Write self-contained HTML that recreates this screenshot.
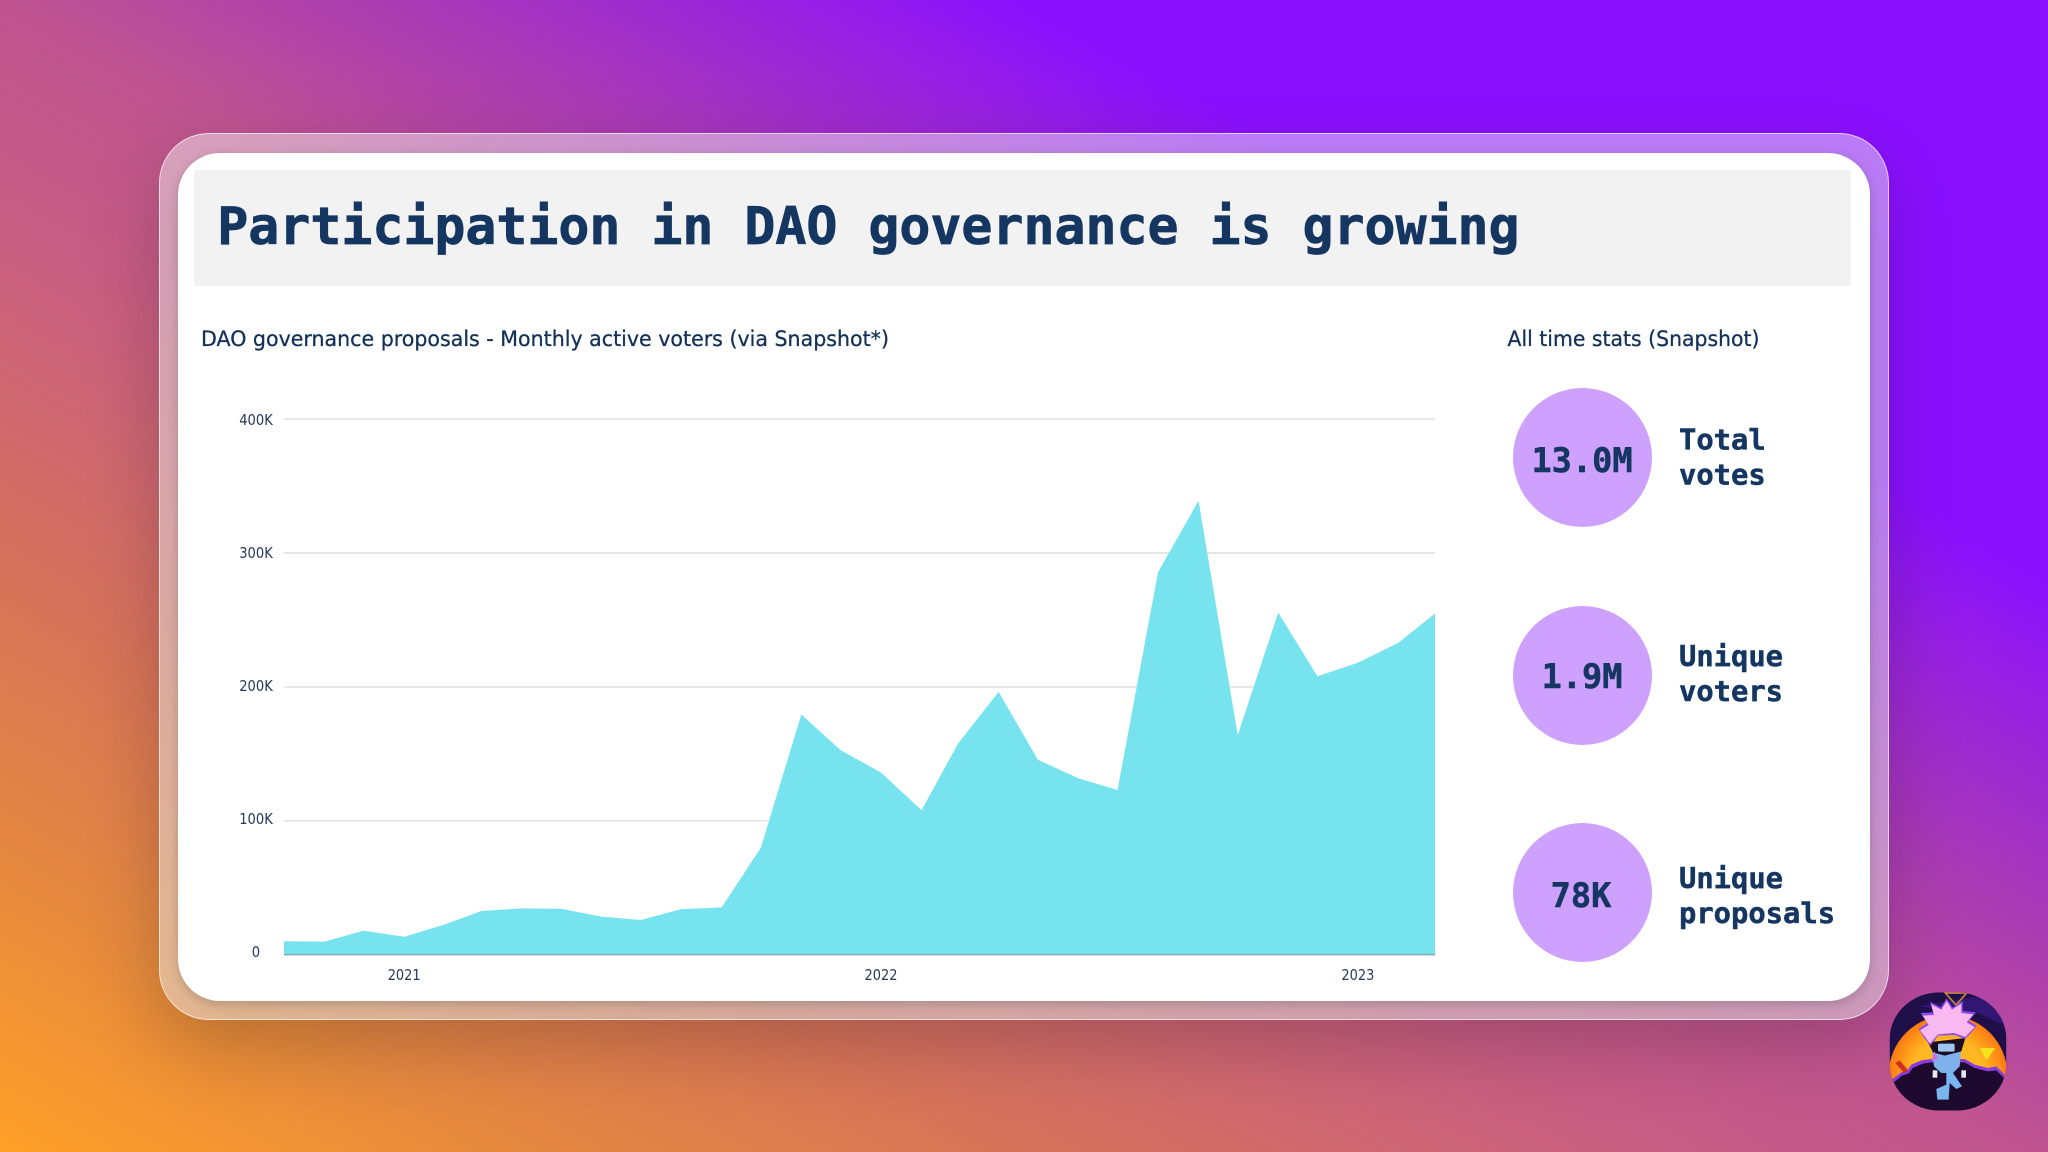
<!DOCTYPE html>
<html lang="en">
<head>
<meta charset="utf-8">
<title>Participation in DAO governance is growing</title>
<style>
  html, body { margin: 0; padding: 0; width: 2048px; height: 1152px; overflow: hidden; }
  #bg {
    position: absolute; left: 0; top: 0; width: 2048px; height: 1152px;
    background: linear-gradient(to top right,
      #ffa028 0%, #e68a3e 12%, #d6735a 25%, #c95f80 39%, #bf5490 50%,
      #a93ab5 60%, #8a10ff 75%, #8a10ff 100%);
    overflow: hidden;
  }
  #frame-shadow {
    position: absolute; left: 159px; top: 157px; width: 1730px; height: 887px;
    border-radius: 50px; background: rgba(0,0,0,.2); filter: blur(35px);
  }
  #glass {
    position: absolute; left: 159px; top: 133px; width: 1728px; height: 885px;
    border: 1px solid rgba(255,255,255,.62); border-radius: 50px;
    background: rgba(255,255,255,.45);
  }
  #card {
    position: absolute; left: 178px; top: 153px; width: 1692px; height: 848px;
    background: #fff; border-radius: 42px;
    box-shadow: 0 3px 10px rgba(0,0,0,.16);
  }
  #title-bar { position: absolute; left: 194px; top: 170px; width: 1657px; height: 116px; background: #f2f2f2; }
  svg { position: absolute; left: 0; top: 0; }
  .mono { font-family: "DejaVu Sans Mono", "Liberation Mono", monospace; font-weight: 700; fill: #143661; stroke: #143661; stroke-width: .5px; }
  .sans { font-family: "DejaVu Sans", "Liberation Sans", sans-serif; fill: #143257; stroke: #143257; stroke-width: .3px; }
  .tick { font-family: "DejaVu Sans", "Liberation Sans", sans-serif; fill: #27395a; font-size: 15px; }
</style>
</head>
<body>
<div id="bg">
  <div id="frame-shadow"></div>
</div>
<div id="glass"></div>
<div id="card"></div>
<div id="title-bar"></div>

<svg id="main" width="2048" height="1152" viewBox="0 0 2048 1152" xmlns="http://www.w3.org/2000/svg">
  <text class="mono" x="217.3" y="244" font-size="51.5" style="stroke-width:.8px">Participation in DAO governance is growing</text>

  <text class="sans" x="201" y="346" font-size="21" textLength="688" lengthAdjust="spacingAndGlyphs">DAO governance proposals - Monthly active voters (via Snapshot*)</text>
  <text class="sans" x="1507.5" y="346" font-size="21" textLength="252" lengthAdjust="spacingAndGlyphs">All time stats (Snapshot)</text>

  <g id="chart"></g>

  <g>
    <circle cx="1582.5" cy="457.5" r="69.5" fill="#cda1fd"/>
    <text class="mono" x="1582" y="472" font-size="33.6" text-anchor="middle">13.0M</text>
    <text class="mono" x="1679" y="449.5" font-size="28.8">Total</text>
    <text class="mono" x="1679" y="484.5" font-size="28.8">votes</text>
  </g>
  <g>
    <circle cx="1582.5" cy="675.5" r="69.5" fill="#cda1fd"/>
    <text class="mono" x="1582" y="688" font-size="33.6" text-anchor="middle">1.9M</text>
    <text class="mono" x="1679" y="666" font-size="28.8">Unique</text>
    <text class="mono" x="1679" y="701" font-size="28.8">voters</text>
  </g>
  <g>
    <circle cx="1582.5" cy="892.5" r="69.5" fill="#cda1fd"/>
    <text class="mono" x="1581" y="907" font-size="33.6" text-anchor="middle">78K</text>
    <text class="mono" x="1679" y="888" font-size="28.8">Unique</text>
    <text class="mono" x="1679" y="923" font-size="28.8">proposals</text>
  </g>

  <defs>
    <clipPath id="avatar-clip"><rect x="35" y="28" width="350" height="355" rx="150" ry="140"/></clipPath>
    <radialGradient id="sun-grad" gradientUnits="userSpaceOnUse" cx="210" cy="275" r="178">
      <stop offset="0.6" stop-color="#ffb822"/>
      <stop offset="1" stop-color="#fb7a12"/>
    </radialGradient>
  </defs>
  <g transform="translate(1878 983) scale(0.3333)" clip-path="url(#avatar-clip)">
    <rect x="35" y="28" width="350" height="355" fill="#1e0f48"/>
    <path d="M120 70 L300 40 L385 90 L385 130 L300 90 Z" fill="#3a1a86" opacity=".7"/>
    <circle cx="210" cy="275" r="178" fill="url(#sun-grad)"/>
    <polygon points="305,195 352,195 325,232" fill="#f4e21c"/>
    <polygon points="202,30 266,30 234,66" fill="none" stroke="#c98a3a" stroke-width="5"/>
    <polygon points="35,295 70,268 88,262 100,245 130,232 160,228 260,228 290,245 330,255 355,250 385,280 385,383 35,383" fill="#8a3be0"/>
    <polygon points="35,308 72,278 92,272 104,255 135,242 160,238 260,238 290,255 330,265 355,262 385,292 385,383 35,383" fill="#1d0a2e"/>
    <polygon points="160,190 250,190 245,250 225,270 190,270 168,250" fill="#7fb1ea"/>
    <polygon points="150,178 262,165 250,205 200,218 165,208" fill="#1b0d22"/>
    <rect x="180" y="182" width="50" height="24" rx="5" fill="#9fc6ee"/>
    <polygon points="170,205 160,235 180,225" fill="#d06be0"/>
    <polygon points="122,138 148,120 128,90 165,88 156,56 188,74 206,46 224,74 254,54 254,84 294,88 272,114 296,128 278,150 262,168 230,156 180,158 158,188 138,164" fill="#8f4cf0"/>
    <polygon points="126,142 152,126 134,98 168,96 160,64 190,80 206,54 222,80 250,62 250,90 286,94 266,118 290,132 262,162 228,150 180,154 156,182 140,160" fill="#f8b8f0"/>
    <polygon points="205,265 222,265 252,310 235,318 215,300 212,350 178,350 175,318 205,305" fill="#79b5ee"/>
    <rect x="164" y="262" width="14" height="22" fill="#e8e8f0"/>
    <rect x="250" y="262" width="14" height="22" fill="#e8e8f0"/>
    <polygon points="52,240 65,232 90,262 78,270" fill="#d0301e"/>
  </g>
</svg>

<script>
const categories = ['2020-10','2020-11','2020-12','2021-01','2021-02','2021-03','2021-04','2021-05','2021-06','2021-07','2021-08','2021-09','2021-10','2021-11','2021-12','2022-01','2022-02','2022-03','2022-04','2022-05','2022-06','2022-07','2022-08','2022-09','2022-10','2022-11','2022-12','2023-01','2023-02','2023-03'];
const activeVoters = [10000,9800,18000,13400,22600,32600,34600,34300,28400,25900,34000,35300,80000,179400,152800,136000,108000,157800,196300,145600,131800,123000,285600,339000,164000,255500,208000,218000,233000,254800];
const yTickValues = [0,100000,200000,300000,400000];
const yTickLabels = ['0','100K','200K','300K','400K'];
const xTickMonths = ['2021-01','2022-01','2023-01'];
const xTickLabels = ['2021','2022','2023'];

const SVG_NS = 'http://www.w3.org/2000/svg';
const chart = document.getElementById('chart');
const plotLeft = 284, plotRight = 1435, plotBottom = 954.7, pxPer100k = 133.9;
function monthTime(m) { return Date.parse(m + '-01T00:00:00Z'); }
function timeScale(m) {
  const t0 = monthTime(categories[0]);
  const t1 = monthTime(categories[categories.length - 1]);
  return plotLeft + (monthTime(m) - t0) / (t1 - t0) * (plotRight - plotLeft);
}
function yScale(v) { return plotBottom - v / 100000 * pxPer100k; }
function yLabelBaseline(v) { return 957 - v / 100000 * 133; }

yTickValues.forEach(function (v, k) {
  if (v !== 0) {
    const line = document.createElementNS(SVG_NS, 'line');
    line.setAttribute('x1', plotLeft);
    line.setAttribute('x2', plotRight);
    line.setAttribute('y1', yScale(v));
    line.setAttribute('y2', yScale(v));
    line.setAttribute('stroke', '#dedede');
    line.setAttribute('stroke-width', '1.4');
    
    
    chart.appendChild(line);
  }
  const label = document.createElementNS(SVG_NS, 'text');
  label.setAttribute('class', 'tick');
  label.setAttribute('x', 256);
  label.setAttribute('y', yLabelBaseline(v));
  label.setAttribute('text-anchor', 'middle');
  label.setAttribute('textLength', yTickLabels[k].length * 8.4);
  label.setAttribute('lengthAdjust', 'spacingAndGlyphs');
  
  
  label.textContent = yTickLabels[k];
  chart.appendChild(label);
});

let d = 'M' + plotLeft + ' ' + yScale(0);
activeVoters.forEach(function (v, i) { d += ' L' + timeScale(categories[i]).toFixed(2) + ' ' + yScale(v).toFixed(2); });
d += ' L' + plotRight + ' ' + yScale(0) + ' Z';
const area = document.createElementNS(SVG_NS, 'path');
area.setAttribute('d', d);
area.setAttribute('fill', '#76e3ef');


chart.appendChild(area);

const axisLine = document.createElementNS(SVG_NS, 'line');
axisLine.setAttribute('x1', plotLeft);
axisLine.setAttribute('x2', plotRight);
axisLine.setAttribute('y1', yScale(0));
axisLine.setAttribute('y2', yScale(0));
axisLine.setAttribute('stroke', '#7fa9b8');
axisLine.setAttribute('stroke-width', '1.4');


chart.appendChild(axisLine);

xTickMonths.forEach(function (m, k) {
  const label = document.createElementNS(SVG_NS, 'text');
  label.setAttribute('class', 'tick');
  label.setAttribute('x', timeScale(m));
  label.setAttribute('y', 980);
  label.setAttribute('text-anchor', 'middle');
  label.setAttribute('textLength', 33);
  label.setAttribute('lengthAdjust', 'spacingAndGlyphs');
  
  
  label.textContent = xTickLabels[k];
  chart.appendChild(label);
});
</script>
</body>
</html>
